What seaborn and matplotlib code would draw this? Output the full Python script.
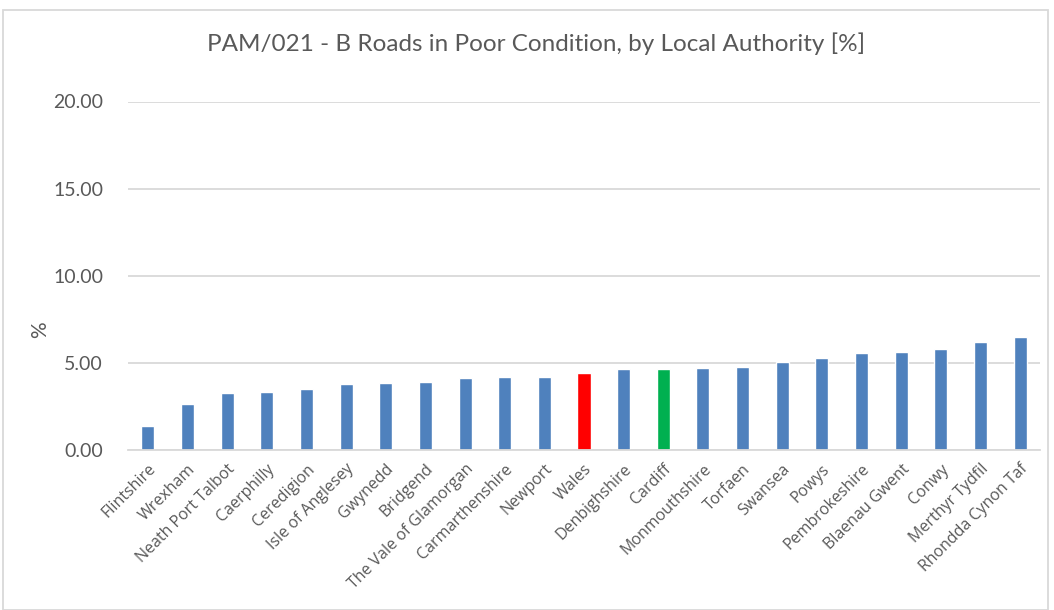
import matplotlib
matplotlib.use("Agg")
import matplotlib.pyplot as plt
import seaborn as sns
import pandas as pd
from matplotlib.patches import Rectangle

authorities = ["Flintshire", "Wrexham", "Neath Port Talbot", "Caerphilly", "Ceredigion",
               "Isle of Anglesey", "Gwynedd", "Bridgend", "The Vale of Glamorgan",
               "Carmarthenshire", "Newport", "Wales", "Denbighshire", "Cardiff",
               "Monmouthshire", "Torfaen", "Swansea", "Powys", "Pembrokeshire",
               "Blaenau Gwent", "Conwy", "Merthyr Tydfil", "Rhondda Cynon Taf"]
values = [1.36, 2.63, 3.26, 3.32, 3.49, 3.78, 3.83, 3.89, 4.12, 4.18, 4.18, 4.41,
          4.64, 4.64, 4.70, 4.75, 5.04, 5.27, 5.56, 5.62, 5.79, 6.19, 6.48]
yticks = [0, 5, 10, 15, 20]

BLUE = "#4F81BD"
highlight = {"Wales": "#FF0000", "Cardiff": "#00B050"}
colors = [highlight.get(a, BLUE) for a in authorities]
TXT = "#595959"

df = pd.DataFrame({"authority": authorities, "value": values})

sns.set_theme(style="white")
fig = plt.figure(figsize=(10.54, 6.10), dpi=100)
ax = fig.add_axes([128/1054, 1-450/610, (1040-128)/1054, (450-101.5)/610])

sns.barplot(data=df, x="authority", y="value", hue="authority", palette=colors,
            legend=False, width=0.33, saturation=1, ax=ax)

ax.set_xlim(-0.5, len(authorities) - 0.5)
ax.set_ylim(0, 20)
ax.set_yticks(yticks)
ax.set_yticklabels([f"{v:.2f}" for v in yticks], fontsize=14, color=TXT, family="Lato")
ax.yaxis.grid(True, color="#D9D9D9", linewidth=1.3)
ax.set_axisbelow(True)
for s in ["top", "right", "left"]:
    ax.spines[s].set_visible(False)
ax.spines["bottom"].set_color("#D9D9D9")
ax.spines["bottom"].set_linewidth(1.3)
ax.tick_params(axis="y", length=0, pad=18)
ax.tick_params(axis="x", length=0, pad=8)
ax.set_xticks(range(len(authorities)))
ax.set_xticklabels(authorities, rotation=45, ha="right", rotation_mode="anchor",
                   fontsize=11.5, color=TXT, family="Open Sans")
ax.set_xlabel("")
ax.set_ylabel("%", fontsize=15, color=TXT, family="Lato")
ax.yaxis.set_label_coords((50 - 128) / 912, (450 - 330) / 348.5)

fig.text(536/1054, 1-44/610, "PAM/021 - B Roads in Poor Condition, by Local Authority [%]",
         ha="center", va="center", fontsize=17.5, color=TXT, family="Lato")

fig.patches.append(Rectangle((3/1054, 0), 1045/1054, 1-10/610, transform=fig.transFigure,
                             fill=False, edgecolor="#D9D9D9", linewidth=1.3))

fig.savefig("out.png", dpi=100)
